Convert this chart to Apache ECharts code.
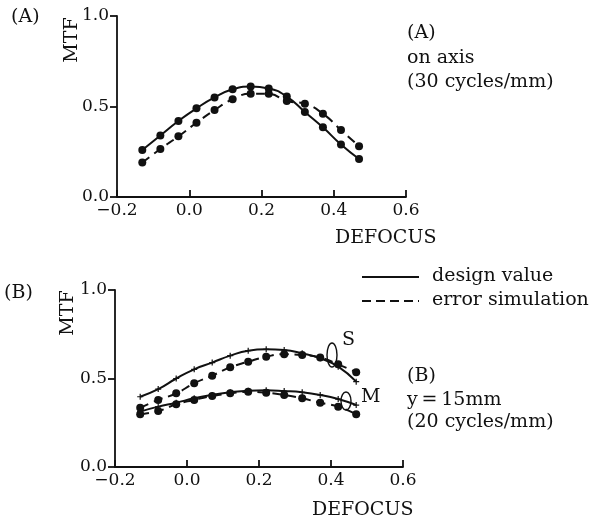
<!DOCTYPE html>
<html>
<head>
<meta charset="utf-8">
<script src="https://cdn.jsdelivr.net/npm/echarts@6/dist/echarts.min.js"></script>
<style>
html, body { margin: 0; padding: 0; background: #fff; }
#chart { width: 605px; height: 524px; }
</style>
</head>
<body>
<div id="chart"></div>
<script>
// defocus positions of the computed points
const defocus = [-0.13, -0.08, -0.03, 0.02, 0.07, 0.12, 0.17, 0.22, 0.27, 0.32, 0.37, 0.42, 0.47];

// (A) on axis, 30 cycles/mm
const aDesign = [0.26, 0.34, 0.42, 0.49, 0.55, 0.595, 0.61, 0.60, 0.555, 0.47, 0.385, 0.29, 0.21];
const aError  = [0.19, 0.265, 0.335, 0.41, 0.48, 0.54, 0.57, 0.57, 0.53, 0.515, 0.46, 0.37, 0.28];

// (B) y=15mm, 20 cycles/mm  (S = sagittal, M = meridional)
const bDesignS = [0.397, 0.44, 0.50, 0.552, 0.59, 0.629, 0.657, 0.665, 0.661, 0.642, 0.614, 0.567, 0.482];
const bErrorS  = [0.335, 0.379, 0.416, 0.473, 0.516, 0.563, 0.595, 0.623, 0.637, 0.633, 0.618, 0.58, 0.535];
const bDesignM = [0.313, 0.341, 0.363, 0.388, 0.407, 0.422, 0.431, 0.433, 0.429, 0.422, 0.407, 0.384, 0.35];
const bErrorM  = [0.298, 0.316, 0.354, 0.379, 0.401, 0.416, 0.425, 0.42, 0.407, 0.388, 0.363, 0.341, 0.298];

const xTicks = [-0.2, 0.0, 0.2, 0.4, 0.6];
const yTicks = [0.0, 0.5, 1.0];

const ink = '#111';
const serif = '"DejaVu Serif", "Liberation Serif", serif';
const plus = 'path://M4,0H6V4H10V6H6V10H4V6H0V4H4Z';

let ec = echarts.init(document.getElementById('chart'));

function pair(ys) { return defocus.map((x, i) => [x, ys[i]]); }
function fmt(v) {
    if (Math.abs(v) < 1e-9) v = 0;
    return (v < 0 ? '\u2212' : '') + Math.abs(v).toFixed(1);
}

function xAxis(grid) {
    return {
        type: 'value', gridIndex: grid,
        min: xTicks[0], max: xTicks[xTicks.length - 1], interval: xTicks[1] - xTicks[0],
        axisLine: { onZero: false, lineStyle: { color: ink, width: 1.8 } },
        axisTick: { inside: true, length: 7, lineStyle: { color: ink, width: 1.8 } },
        axisLabel: { color: ink, fontFamily: serif, fontSize: 17, margin: 5, formatter: fmt },
        splitLine: { show: false }
    };
}
function yAxis(grid) {
    return {
        type: 'value', gridIndex: grid,
        min: yTicks[0], max: yTicks[yTicks.length - 1], interval: yTicks[1] - yTicks[0],
        axisLine: { show: true, onZero: false, lineStyle: { color: ink, width: 1.8 } },
        axisTick: { show: true, length: 7, lineStyle: { color: ink, width: 1.8 } },
        axisLabel: { color: ink, fontFamily: serif, fontSize: 17, margin: 8, formatter: fmt },
        splitLine: { show: false }
    };
}

function curve(name, grid, ys, dashed, symbol, size) {
    return {
        name: name, type: 'line', xAxisIndex: grid, yAxisIndex: grid,
        data: pair(ys), smooth: true, silent: true,
        symbol: symbol, symbolSize: size, showSymbol: true,
        itemStyle: { color: ink },
        lineStyle: { color: ink, width: 2, type: dashed ? [9, 6] : 'solid' }
    };
}

function txt(x, y, s, size, extra) {
    return Object.assign({
        type: 'text', x: x, y: y,
        style: { text: s, fill: ink, font: (size || 19) + 'px ' + serif, textVerticalAlign: 'middle' }
    }, extra || {});
}
function vtxt(x, y, s) {
    return {
        type: 'text', x: x, y: y, rotation: Math.PI / 2,
        style: { text: s, fill: ink, font: '19px ' + serif, textAlign: 'center', textVerticalAlign: 'middle' }
    };
}

let option = {
    backgroundColor: '#fff',
    animation: false,
    grid: [
        { left: 117, top: 16, width: 289, height: 181 },
        { left: 115, top: 290, width: 288, height: 177 }
    ],
    xAxis: [xAxis(0), xAxis(1)],
    yAxis: [yAxis(0), yAxis(1)],
    series: [
        curve('design value', 0, aDesign, false, 'circle', 8),
        curve('error simulation', 0, aError, true, 'circle', 8),
        curve('design value', 1, bDesignS, false, plus, 6),
        curve('error simulation', 1, bErrorS, true, 'circle', 8),
        curve('design value', 1, bDesignM, false, plus, 6),
        curve('error simulation', 1, bErrorM, true, 'circle', 8)
    ],
    graphic: [
        // panel A labels
        txt(11, 17, '(A)'),
        vtxt(72, 40, 'MTF'),
        txt(335, 238, 'DEFOCUS', 19),
        txt(407, 33, '(A)'),
        txt(407, 58, 'on axis'),
        txt(407, 82, '(30 cycles/mm)'),
        // legend
        { type: 'line', shape: { x1: 362, y1: 277, x2: 419, y2: 277 }, style: { stroke: ink, lineWidth: 1.8 } },
        txt(432, 276, 'design value'),
        { type: 'line', shape: { x1: 362, y1: 301, x2: 419, y2: 301 }, style: { stroke: ink, lineWidth: 1.8, lineDash: [9, 5] } },
        txt(432, 300, 'error simulation'),
        // panel B labels
        txt(4, 293, '(B)'),
        vtxt(68, 313, 'MTF'),
        txt(312, 510, 'DEFOCUS', 19),
        txt(407, 376, '(B)'),
        txt(407, 400, 'y\u2009=\u200915mm'),
        txt(407, 422, '(20 cycles/mm)'),
        txt(342, 340, 'S'),
        txt(361, 397, 'M'),
        { type: 'ellipse', shape: { cx: 332, cy: 355, rx: 5, ry: 12 }, style: { stroke: ink, fill: 'none', lineWidth: 1.4 } },
        { type: 'ellipse', shape: { cx: 346, cy: 401, rx: 5, ry: 9 }, style: { stroke: ink, fill: 'none', lineWidth: 1.4 } }
    ]
};

ec.setOption(option);
</script>
</body>
</html>
